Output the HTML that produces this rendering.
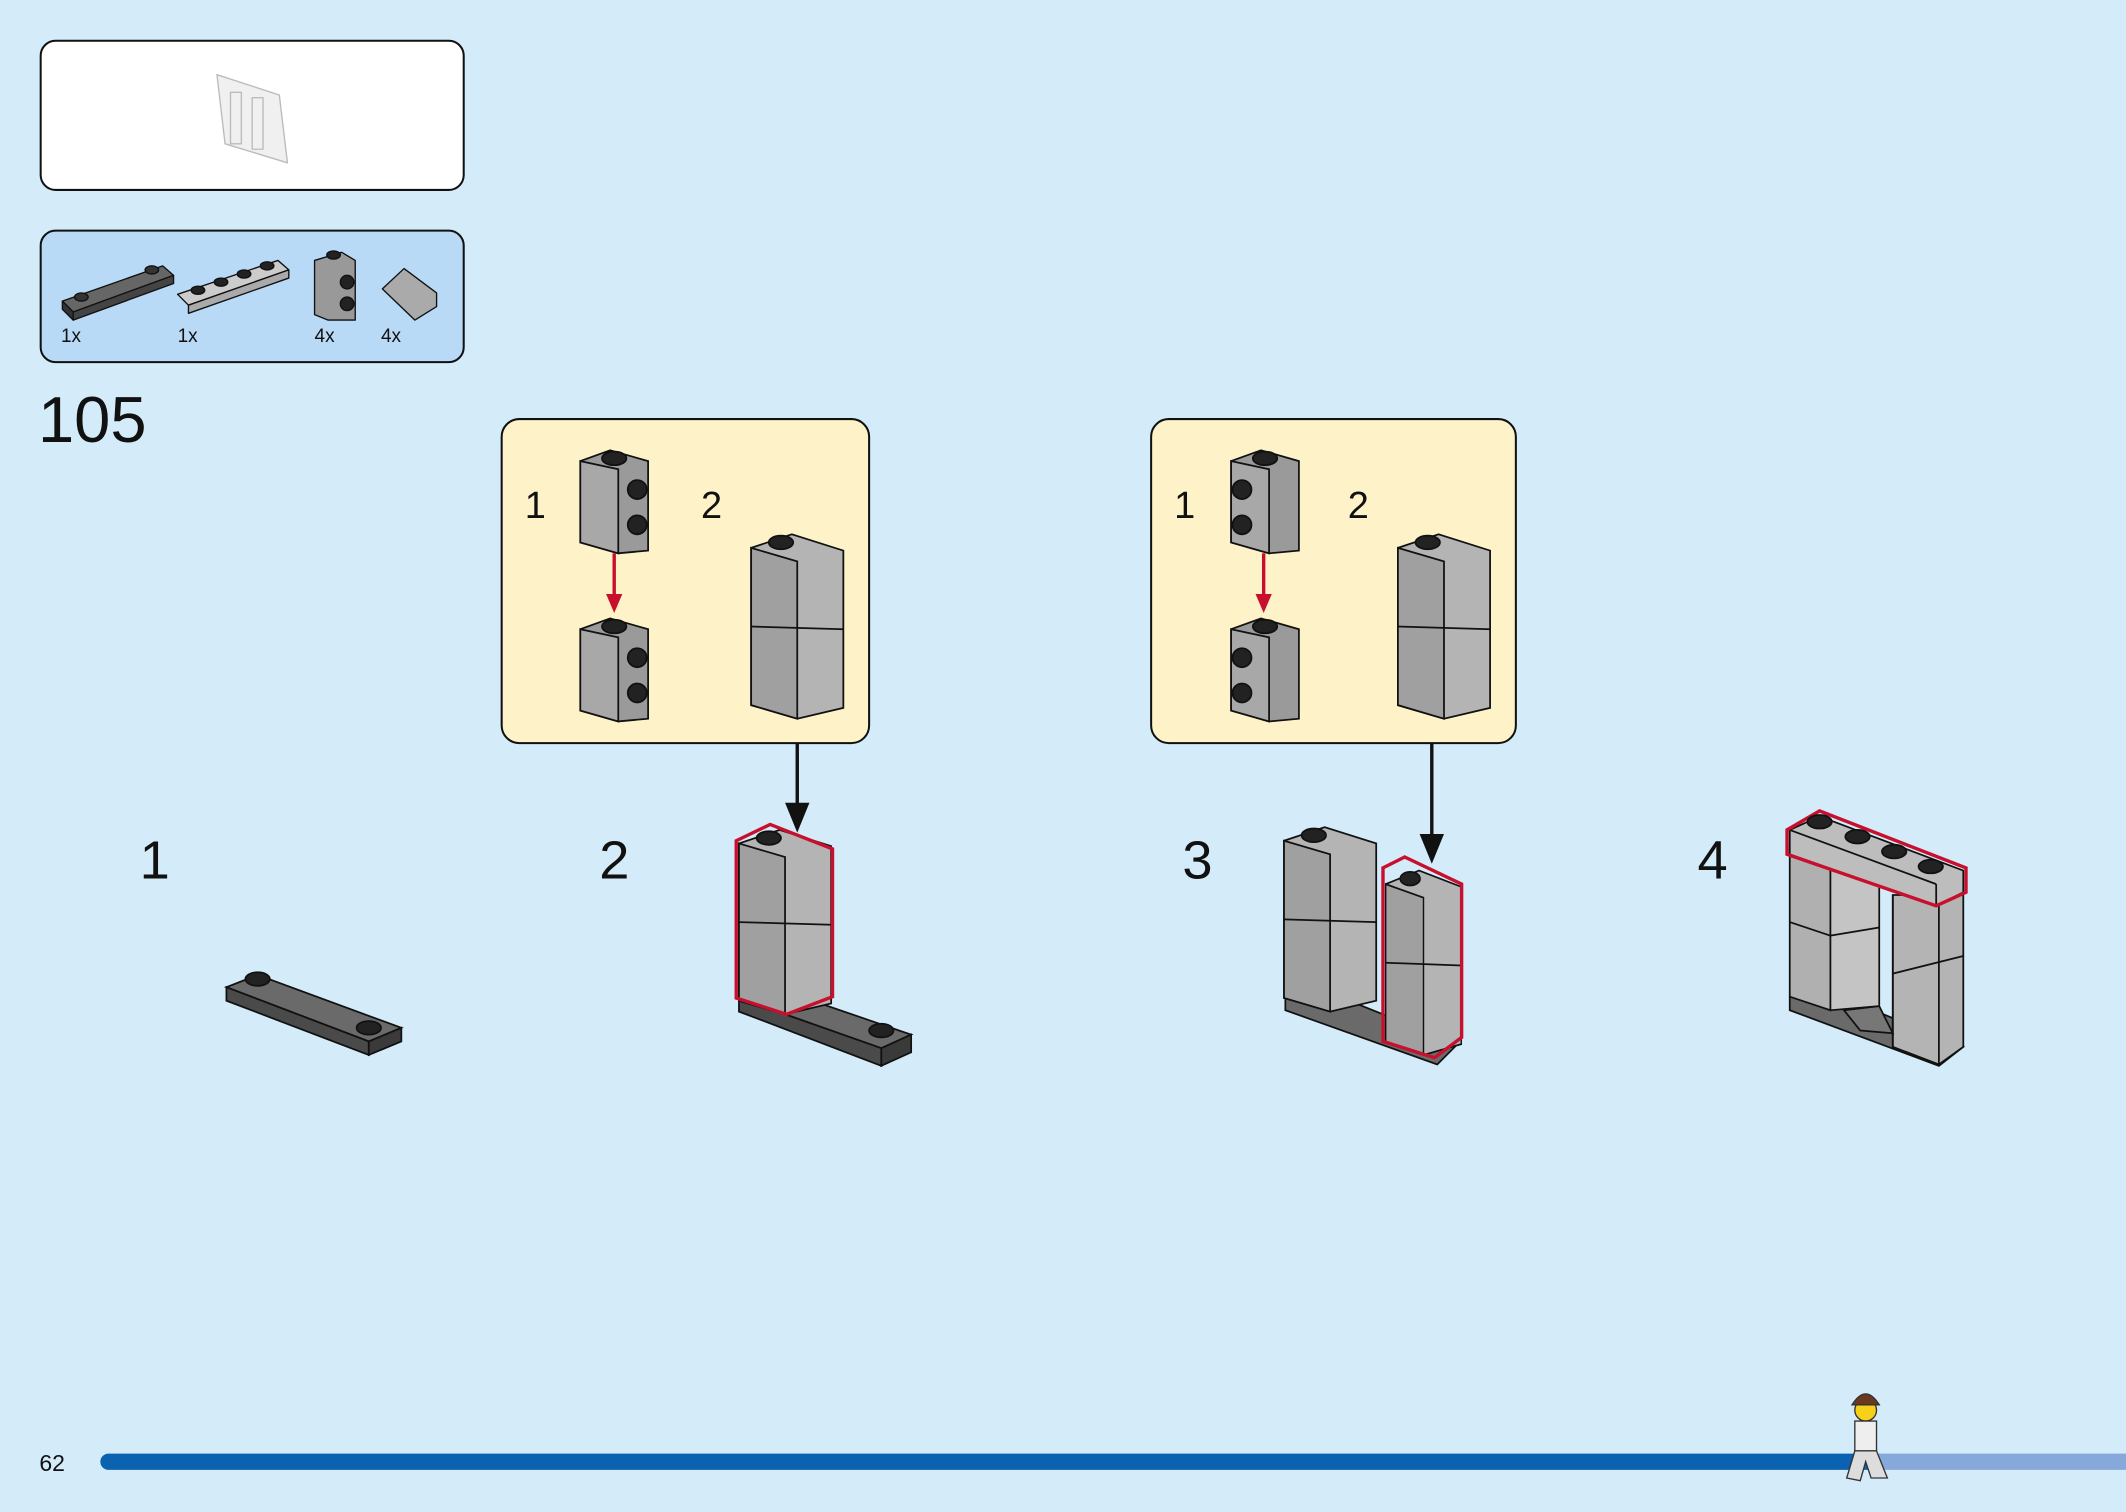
<!DOCTYPE html>
<html><head><meta charset="utf-8"><style>
html,body{margin:0;padding:0;background:#d4ebf9;}
svg{display:block;}
text{font-family:"Liberation Sans",sans-serif;}
</style></head><body>
<svg width="2126" height="1512" viewBox="0 0 1568 1115" xmlns="http://www.w3.org/2000/svg">
<rect width="1568" height="1115" fill="#d4ebf9"/>
<g stroke="#111" stroke-width="1" stroke-linejoin="round">
<rect x="30" y="30" width="312" height="110" rx="11" fill="#fff" stroke-width="1.5"/>
<g fill="#f0f0f0" stroke="#bbb"><polygon points="160,55 206,70 212,120 166,106"/><rect x="170" y="68" width="8" height="38"/><rect x="186" y="72" width="8" height="38"/></g>
<rect x="30" y="170" width="312" height="97" rx="11" fill="#b8daf6" stroke-width="1.5"/>
<polygon points="46,222 120,196 128,203 54,230" fill="#666"/><polygon points="46,222 54,230 54,236 46,228" fill="#333"/><polygon points="54,230 128,203 128,209 54,236" fill="#444"/>
<ellipse cx="60" cy="219" rx="5" ry="3" fill="#333"/><ellipse cx="112" cy="199" rx="5" ry="3" fill="#333"/>
<polygon points="131,217 205,192 213,199 139,225" fill="#ccc"/><polygon points="139,225 213,199 213,205 139,231" fill="#aaa"/>
<ellipse cx="146" cy="214" rx="5" ry="3" fill="#222"/><ellipse cx="163" cy="208" rx="5" ry="3" fill="#222"/><ellipse cx="180" cy="202" rx="5" ry="3" fill="#222"/><ellipse cx="197" cy="196" rx="5" ry="3" fill="#222"/>
<polygon points="232,192 252,186 262,192 262,236 242,236 232,232" fill="#999"/><circle cx="256" cy="208" r="5" fill="#222"/><circle cx="256" cy="224" r="5" fill="#222"/><ellipse cx="246" cy="188" rx="5" ry="3" fill="#222"/>
<polygon points="282,213 298,198 322,216 322,226 306,236" fill="#aaa"/>
</g>
<g font-size="14" fill="#111"><text x="45" y="252">1x</text><text x="131" y="252">1x</text><text x="232" y="252">4x</text><text x="281" y="252">4x</text></g>
<text x="28" y="326" font-size="48" fill="#111">105</text>
<rect x="370" y="309" width="271" height="239" rx="13" fill="#fef3c8" stroke="#111" stroke-width="1.5"/>
<rect x="849" y="309" width="269" height="239" rx="13" fill="#fef3c8" stroke="#111" stroke-width="1.5"/>
<g font-size="28" fill="#111"><text x="387" y="382">1</text><text x="517" y="382">2</text><text x="866" y="382">1</text><text x="994" y="382">2</text></g>
<defs>
<g id="b1" stroke="#111" stroke-width="1.3">
<polygon points="0,12 22,4 50,12 50,78 28,80 0,72" fill="#9a9a9a"/>
<polygon points="0,12 28,18 28,80 0,72" fill="#a8a8a8"/>
<ellipse cx="25" cy="10" rx="9" ry="5" fill="#222"/>
</g>
<g id="col" stroke="#111" stroke-width="1.3">
<polygon points="0,12 30,2 68,14 68,130 34,138 0,128" fill="#b4b4b4"/>
<polygon points="0,12 34,22 34,138 0,128" fill="#a0a0a0"/>
<line x1="0" y1="70" x2="68" y2="72"/>
<ellipse cx="22" cy="8" rx="9" ry="5" fill="#222"/>
</g>
</defs>
<g stroke="#111" stroke-width="1.3">
<use href="#b1" x="428" y="328"/><circle cx="470" cy="361" r="7" fill="#222"/><circle cx="470" cy="387" r="7" fill="#222"/>
<use href="#b1" x="428" y="452"/><circle cx="470" cy="485" r="7" fill="#222"/><circle cx="470" cy="511" r="7" fill="#222"/>
<use href="#b1" x="908" y="328"/><circle cx="916" cy="361" r="7" fill="#222"/><circle cx="916" cy="387" r="7" fill="#222"/>
<use href="#b1" x="908" y="452"/><circle cx="916" cy="485" r="7" fill="#222"/><circle cx="916" cy="511" r="7" fill="#222"/>
<use href="#col" x="554" y="392"/>
<use href="#col" x="1031" y="392"/>
</g>
<g stroke="#c8102e" stroke-width="2.5" fill="#c8102e"><line x1="453" y1="408" x2="453" y2="440"/><polygon points="447,438 459,438 453,452" stroke="none"/>
<line x1="932" y1="408" x2="932" y2="440"/><polygon points="926,438 938,438 932,452" stroke="none"/></g>
<g stroke="#111" stroke-width="2.5" fill="#111"><line x1="588" y1="548" x2="588" y2="595"/><polygon points="579,592 597,592 588,614" stroke="none"/>
<line x1="1056" y1="548" x2="1056" y2="618"/><polygon points="1047,615 1065,615 1056,637" stroke="none"/></g>
<g font-size="40" fill="#111"><text x="103" y="648">1</text><text x="442" y="648">2</text><text x="872" y="648">3</text><text x="1252" y="648">4</text></g>
<g stroke="#111" stroke-width="1.3">
<polygon points="167,728 190,719 296,758 272,768" fill="#6a6a6a"/><polygon points="167,728 272,768 272,778 167,738" fill="#4a4a4a"/><polygon points="272,768 296,758 296,768 272,778" fill="#3a3a3a"/>
<ellipse cx="190" cy="722" rx="9" ry="5" fill="#222"/><ellipse cx="272" cy="758" rx="9" ry="5" fill="#222"/>
<polygon points="545,736 570,728 672,763 650,773" fill="#6a6a6a"/><polygon points="545,736 650,773 650,786 545,746" fill="#4a4a4a"/><polygon points="650,773 672,763 672,776 650,786" fill="#3a3a3a"/>
<ellipse cx="650" cy="760" rx="9" ry="5" fill="#222"/>
<use href="#col" x="545" y="610"/>
<polygon points="543,620 568,608 614,626 614,735 580,748 543,736" fill="none" stroke="#c8102e" stroke-width="2.5"/>
<polygon points="948,735 970,728 1075,770 1060,785 948,745" fill="#6a6a6a"/>
<use href="#col" x="947" y="608"/>
<use href="#col" x="1022" y="640" transform="translate(1022,640) scale(0.82,1) translate(-1022,-640)"/>
<polygon points="1020,640 1036,632 1078,652 1078,765 1058,780 1020,768" fill="none" stroke="#c8102e" stroke-width="2.5"/>
<polygon points="1320,735 1340,728 1448,772 1430,786 1320,745" fill="#6a6a6a"/>
<polygon points="1320,625 1350,636 1350,745 1320,735" fill="#b0b0b0"/>
<polygon points="1396,660 1448,660 1448,772 1430,785 1396,772" fill="#b4b4b4"/>
<line x1="1396" y1="660" x2="1396" y2="772"/>
<line x1="1430" y1="668" x2="1430" y2="785"/>
<polygon points="1350,640 1386,652 1386,742 1350,745" fill="#c4c4c4"/>
<polygon points="1360,745 1386,742 1396,762 1372,760" fill="#777"/>
<line x1="1320" y1="680" x2="1350" y2="690"/>
<line x1="1396" y1="718" x2="1448" y2="705"/>
<line x1="1350" y1="690" x2="1386" y2="684"/>
<polygon points="1320,612 1342,602 1448,642 1448,658 1428,668 1320,630" fill="#bdbdbd"/>
<line x1="1320" y1="612" x2="1428" y2="652"/><line x1="1428" y1="652" x2="1428" y2="668"/>
<polygon points="1318,612 1342,598 1450,640 1450,658 1428,668 1318,630" fill="none" stroke="#c8102e" stroke-width="2.5"/>
<ellipse cx="1342" cy="606" rx="9" ry="5" fill="#222"/><ellipse cx="1370" cy="617" rx="9" ry="5" fill="#222"/><ellipse cx="1397" cy="628" rx="9" ry="5" fill="#222"/><ellipse cx="1424" cy="639" rx="9" ry="5" fill="#222"/>
</g>
<rect x="74" y="1072" width="1310" height="12" rx="6" fill="#0a62b0"/>
<rect x="1380" y="1072" width="188" height="12" fill="#87a8da"/>
<text x="29" y="1085" font-size="17" fill="#111">62</text>
<g stroke="#333" stroke-width="1">
<circle cx="1376" cy="1040" r="8" fill="#f7d117"/><path d="M1366,1036 q10,-16 20,0z" fill="#6b3a1e"/>
<rect x="1368" y="1048" width="16" height="22" fill="#eee"/><polygon points="1368,1070 1384,1070 1392,1090 1380,1090 1376,1078 1372,1092 1362,1090" fill="#ddd"/>
</g>
</svg>
</body></html>
